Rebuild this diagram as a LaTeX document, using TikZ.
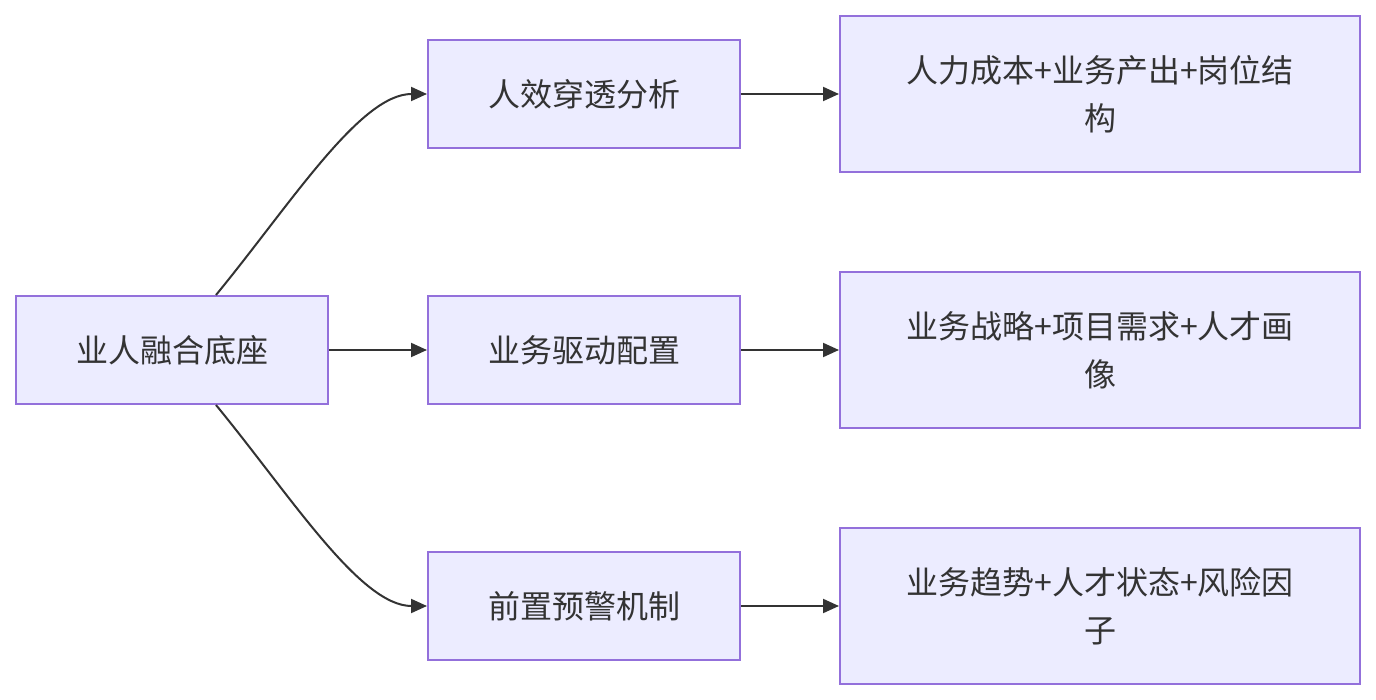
\documentclass[tikz,border=0pt]{standalone}
\usepackage{fontspec}
\newfontfamily\cjk{Noto Sans CJK SC}
\usetikzlibrary{arrows.meta}
\definecolor{boxfill}{HTML}{ECECFF}
\definecolor{boxline}{HTML}{9370DB}
\definecolor{ink}{HTML}{333333}
\begin{document}
\begin{tikzpicture}[x=1pt,y=-1pt,
  box/.style={draw=boxline,fill=boxfill,line width=2pt,text=ink,
    font=\cjk\fontsize{32}{48}\selectfont,align=center,inner sep=0pt},
  midbox/.style={box,minimum width=312pt,minimum height=108pt},
  bigbox/.style={box,minimum width=520pt,minimum height=156pt},
  conn/.style={draw=ink,line width=2pt,-{Triangle[length=16pt,width=14pt]}}]
\useasboundingbox (0,0) rectangle (1376,700);
\node[midbox] (A) at (172,350) {业人融合底座};
\node[midbox] (B1) at (584,94) {人效穿透分析};
\node[midbox] (B2) at (584,350) {业务驱动配置};
\node[midbox] (B3) at (584,606) {前置预警机制};
\node[bigbox] (C1) at (1100,94) {人力成本+业务产出+岗位结\\构};
\node[bigbox] (C2) at (1100,350) {业务战略+项目需求+人才画\\像};
\node[bigbox] (C3) at (1100,606) {业务趋势+人才状态+风险因\\子};
\draw[conn] ([xshift=44pt]A.north) .. controls (290,205) and (360,94) .. (B1.west);
\draw[conn] ([xshift=44pt]A.south) .. controls (290,495) and (360,606) .. (B3.west);
\draw[conn] (A.east) -- (B2.west);
\draw[conn] (B1.east) -- (C1.west);
\draw[conn] (B2.east) -- (C2.west);
\draw[conn] (B3.east) -- (C3.west);
\end{tikzpicture}
\end{document}
